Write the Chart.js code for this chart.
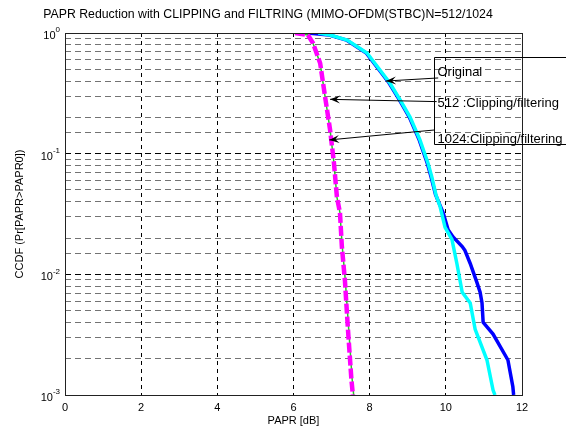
<!DOCTYPE html>
<html>
<head>
<meta charset="utf-8">
<script src="https://cdn.jsdelivr.net/npm/chart.js@4.4.0/dist/chart.umd.min.js"></script>
<style>
  html, body { margin: 0; padding: 0; background: #fff; }
  #wrap { width: 566px; height: 435px; }
</style>
</head>
<body>
<div id="wrap"><canvas id="paprChart" width="566" height="435"></canvas></div>
<script>
// ======================
// DATA
// ======================
const chartTitle = "PAPR Reduction with CLIPPING and FILTRING (MIMO-OFDM(STBC)N=512/1024";
const xTitle = "PAPR [dB]";
const yTitle = "CCDF (Pr[PAPR>PAPR0])";
const xTicks = [0, 2, 4, 6, 8, 10, 12];
const yDecades = [1, 0.1, 0.01, 0.001];
const yDecadeExp = ["0", "-1", "-2", "-3"];

// original, N=512 (blue)
const origBlueX = [6.36, 6.94, 7.39, 7.91, 8.25, 8.51, 8.78, 9.04, 9.30, 9.51, 9.61, 9.73, 9.93, 10.06, 10.19, 10.43, 10.50, 10.64, 10.82, 10.90, 10.95, 10.98, 11.24, 11.63, 11.76, 11.78];
const origBlueY = [1, 0.962, 0.875, 0.682, 0.493, 0.385, 0.279, 0.201, 0.130, 0.0838, 0.0646, 0.0457, 0.0324, 0.0234, 0.0204, 0.0170, 0.0158, 0.0123, 0.0085, 0.0071, 0.0058, 0.0040, 0.0032, 0.00195, 0.00117, 0.001];

// original, N=1024 (cyan)
const origCyanX = [6.65, 6.96, 7.41, 7.93, 8.27, 8.53, 8.80, 9.06, 9.32, 9.53, 9.63, 9.74, 9.85, 9.98, 10.16, 10.29, 10.43, 10.64, 10.77, 11.08, 11.24, 11.29];
const origCyanY = [1, 0.962, 0.875, 0.682, 0.493, 0.385, 0.279, 0.201, 0.130, 0.0838, 0.0646, 0.0457, 0.0363, 0.0245, 0.0195, 0.0123, 0.0071, 0.0058, 0.0035, 0.00195, 0.0011, 0.001];

// clipping/filtering N=512 (magenta dashed)
const clip512X = [6.04, 6.38, 6.51, 6.70, 6.83, 6.96, 7.06, 7.14, 7.22, 7.27, 7.35, 7.43, 7.52, 7.56];
const clip512Y = [1, 0.962, 0.826, 0.562, 0.295, 0.158, 0.0851, 0.0437, 0.0324, 0.0170, 0.0089, 0.0035, 0.00135, 0.001];

// clipping/filtering N=1024 (green)
const clip1024X = [6.04, 6.38, 6.51, 6.70, 6.83, 6.96, 7.06, 7.14, 7.22, 7.28, 7.36, 7.45, 7.54, 7.58];
const clip1024Y = [1, 0.962, 0.826, 0.562, 0.295, 0.158, 0.0851, 0.0437, 0.0324, 0.0170, 0.0089, 0.0035, 0.00135, 0.001];

// annotation texts and arrows (data coords: tail -> tip)
const noteLabels = ["Original", "512 :Clipping/filtering", "1024:Clipping/filtering"];
const noteTextY = [0.47, 0.26, 0.13];
const arrowTailX = [9.80, 9.76, 9.69];
const arrowTailY = [0.424, 0.27, 0.157];
const arrowTipX = [8.43, 6.96, 6.94];
const arrowTipY = [0.40, 0.282, 0.13];

function pts(xs, ys) {
  return xs.map((x, i) => ({ x: x, y: ys[i] }));
}

function isDecade(v) {
  const e = Math.log10(v);
  return Math.abs(e - Math.round(e)) < 1e-6;
}

const FONT = "Liberation Sans, Arial, Helvetica, sans-serif";

// ======================
// OVERLAY: frame, title, labels, annotations
// ======================
const overlayPlugin = {
  id: "overlay",
  afterDatasetsDraw(chart) {
    const ctx = chart.ctx;
    const area = chart.chartArea;
    const xs = chart.scales.x;
    const ys = chart.scales.y;

    ctx.save();

    // axes frame
    ctx.strokeStyle = "#222";
    ctx.lineWidth = 1;
    ctx.setLineDash([]);
    ctx.strokeRect(area.left + 0.5, area.top + 0.5, area.right - area.left, area.bottom - area.top);

    // title
    ctx.fillStyle = "#000";
    ctx.font = "12.3px " + FONT;
    ctx.textAlign = "center";
    ctx.textBaseline = "middle";
    ctx.fillText(chartTitle, 268, 15);

    // x title
    ctx.font = "11px " + FONT;
    ctx.fillText(xTitle, (area.left + area.right) / 2, 421);

    // y title
    ctx.save();
    ctx.translate(20, (area.top + area.bottom) / 2);
    ctx.rotate(-Math.PI / 2);
    ctx.fillText(yTitle, 0, 0);
    ctx.restore();

    // y decade labels with superscripts
    yDecades.forEach((v, i) => {
      const py = ys.getPixelForValue(v);
      ctx.font = "8px " + FONT;
      const expW = ctx.measureText(yDecadeExp[i]).width;
      ctx.font = "11px " + FONT;
      ctx.textAlign = "right";
      ctx.textBaseline = "middle";
      const baseRight = area.left - 5 - expW;
      ctx.fillText("10", baseRight, py + 3);
      ctx.font = "8px " + FONT;
      ctx.textAlign = "left";
      ctx.fillText(yDecadeExp[i], baseRight, py - 3);
    });

    // annotation box (runs off the right edge)
    const boxLeft = xs.getPixelForValue(9.7);
    const boxTop = ys.getPixelForValue(0.63);
    const boxBottom = ys.getPixelForValue(0.12);
    ctx.strokeStyle = "#000";
    ctx.lineWidth = 1;
    ctx.beginPath();
    ctx.moveTo(chart.width, Math.round(boxTop) + 0.5);
    ctx.lineTo(Math.round(boxLeft) + 0.5, Math.round(boxTop) + 0.5);
    ctx.lineTo(Math.round(boxLeft) + 0.5, Math.round(boxBottom) + 0.5);
    ctx.lineTo(chart.width, Math.round(boxBottom) + 0.5);
    ctx.stroke();

    // annotation texts
    ctx.fillStyle = "#000";
    ctx.font = "13px " + FONT;
    ctx.textAlign = "left";
    ctx.textBaseline = "middle";
    noteLabels.forEach((t, i) => {
      ctx.fillText(t, xs.getPixelForValue(9.78), ys.getPixelForValue(noteTextY[i]));
    });

    // arrows
    noteLabels.forEach((t, i) => {
      const x0 = xs.getPixelForValue(arrowTailX[i]);
      const y0 = ys.getPixelForValue(arrowTailY[i]);
      const x1 = xs.getPixelForValue(arrowTipX[i]);
      const y1 = ys.getPixelForValue(arrowTipY[i]);
      const ang = Math.atan2(y1 - y0, x1 - x0);
      ctx.strokeStyle = "#000";
      ctx.lineWidth = 1;
      ctx.beginPath();
      ctx.moveTo(x0, y0);
      ctx.lineTo(x1, y1);
      ctx.stroke();
      const len = 10, half = 4;
      ctx.beginPath();
      ctx.moveTo(x1, y1);
      ctx.lineTo(x1 - len * Math.cos(ang) + half * Math.sin(ang), y1 - len * Math.sin(ang) - half * Math.cos(ang));
      ctx.lineTo(x1 - len * 0.6 * Math.cos(ang), y1 - len * 0.6 * Math.sin(ang));
      ctx.lineTo(x1 - len * Math.cos(ang) - half * Math.sin(ang), y1 - len * Math.sin(ang) + half * Math.cos(ang));
      ctx.closePath();
      ctx.fillStyle = "#000";
      ctx.fill();
    });

    ctx.restore();
  }
};

// ======================
// CHART
// ======================
new Chart(document.getElementById("paprChart"), {
  type: "line",
  data: {
    datasets: [
      {
        label: "Original N=512",
        data: pts(origBlueX, origBlueY),
        borderColor: "#0000ff",
        borderWidth: 3.5,
        order: 3
      },
      {
        label: "Original N=1024",
        data: pts(origCyanX, origCyanY),
        borderColor: "#00ffff",
        borderWidth: 3.5,
        order: 2
      },
      {
        label: "1024 :Clipping/filtering",
        data: pts(clip1024X, clip1024Y),
        borderColor: "#22cc22",
        borderWidth: 1.5,
        order: 1
      },
      {
        label: "512 :Clipping/filtering",
        data: pts(clip512X, clip512Y),
        borderColor: "#ff00ff",
        borderWidth: 4.5,
        borderDash: [10, 3],
        order: 0
      }
    ]
  },
  options: {
    responsive: false,
    animation: false,
    elements: {
      point: { radius: 0 },
      line: { tension: 0, fill: false, borderCapStyle: "butt" }
    },
    layout: {
      padding: { left: 0, right: 44, top: 33, bottom: 0 }
    },
    scales: {
      x: {
        type: "linear",
        min: 0,
        max: 12,
        afterFit(scale) { scale.height = 40; },
        afterBuildTicks(scale) { scale.ticks = xTicks.map(v => ({ value: v })); },
        ticks: {
          color: "#000",
          font: { size: 11, family: FONT },
          padding: 6,
          maxRotation: 0,
          callback: v => String(v)
        },
        grid: {
          color: "#000",
          lineWidth: 1,
          drawTicks: false
        },
        border: { display: false, dash: [4, 4] }
      },
      y: {
        type: "logarithmic",
        min: 0.001,
        max: 1,
        afterFit(scale) { scale.width = 65; },
        ticks: {
          display: false,
          autoSkip: false
        },
        grid: {
          color: ctx => isDecade(ctx.tick.value) ? "#000" : "rgba(0,0,0,0.55)",
          lineWidth: 1,
          drawTicks: false
        },
        border: { display: false, dash: [6, 4] }
      }
    },
    plugins: {
      legend: { display: false },
      title: { display: false },
      tooltip: { enabled: false }
    }
  },
  plugins: [overlayPlugin]
});
</script>
</body>
</html>
